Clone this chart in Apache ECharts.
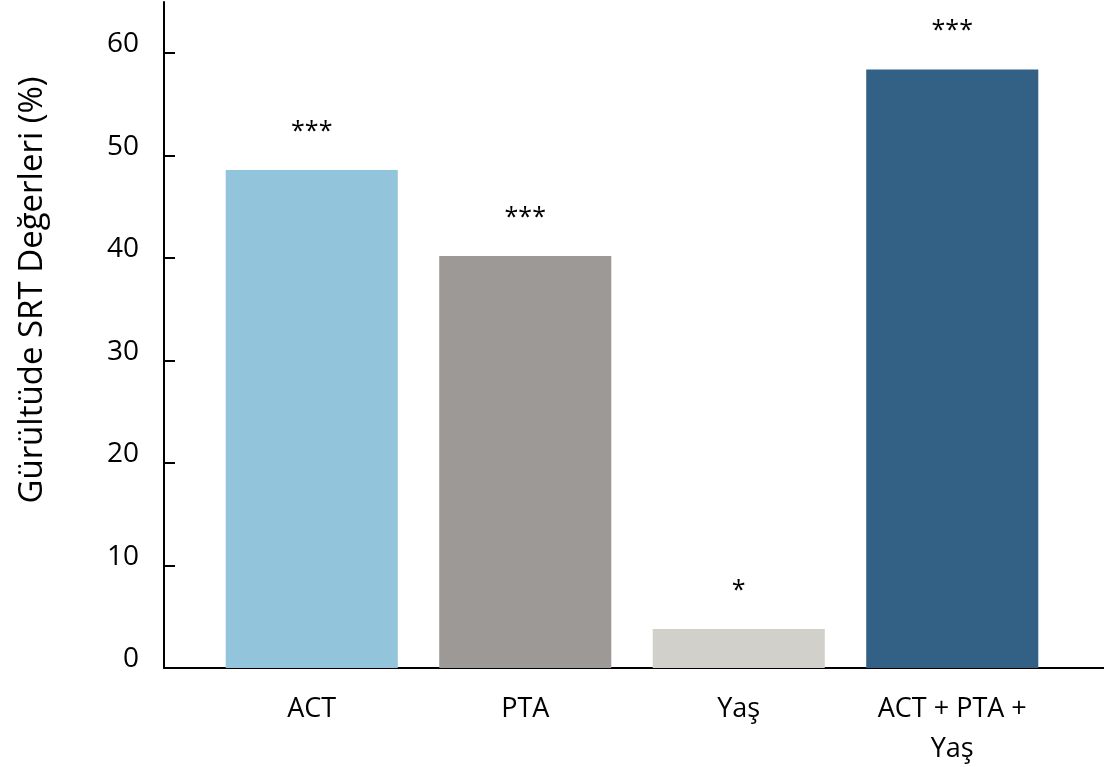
<!DOCTYPE html>
<html>
<head>
<meta charset="utf-8">
<script src="https://cdn.jsdelivr.net/npm/echarts@6/dist/echarts.min.js"></script>
<style>html,body{margin:0;padding:0;background:#fff}#c{width:1104px;height:767px}</style>
</head>
<body>
<div id="c"></div>
<script>
const categories = ['ACT', 'PTA', 'Yaş', 'ACT + PTA +\nYaş'];
const values = [48.6, 40.2, 3.8, 58.4];
const significance = ['***', '***', '*', '***'];
const barColors = ['#92C5DC', '#9D9996', '#D1D0CB', '#336185'];
const yRange = { min: 0, max: 65 };
const yTickValues = [0, 10, 20, 30, 40, 50, 60];
const yTitle = 'Gürültüde SRT Değerleri (%)';

const FONT = 'Open Sans';
const chart = echarts.init(document.getElementById('c'));
chart.setOption({
  animation: false,
  textStyle: { fontFamily: FONT },
  grid: [
    { left: 205, right: 45, top: 2, bottom: 99, containLabel: false, outerBoundsMode: 'none' },
    { left: 164, right: 0, top: 2, bottom: 99, containLabel: false, outerBoundsMode: 'none' }
  ],
  xAxis: [
    {
      type: 'category', gridIndex: 0, data: categories,
      axisLine: { show: false }, axisTick: { show: false },
      axisLabel: { color: '#000', fontSize: 27, fontFamily: FONT, margin: 21, lineHeight: 40 }
    },
    {
      type: 'value', gridIndex: 1, min: 0, max: 1,
      axisLine: { show: true, lineStyle: { color: '#000', width: 2 } },
      axisTick: { show: false }, axisLabel: { show: false }, splitLine: { show: false }
    }
  ],
  yAxis: [
    {
      type: 'value', gridIndex: 0, min: yRange.min, max: yRange.max,
      show: false, splitLine: { show: false }
    },
    {
      type: 'value', gridIndex: 1, min: yRange.min, max: yRange.max,
      name: yTitle, nameLocation: 'middle', nameGap: 115, nameRotate: 90,
      nameTextStyle: { color: '#000', fontSize: 33, fontFamily: FONT, padding: [0, 0, 0, 90] },
      axisLine: { show: true, lineStyle: { color: '#000', width: 2 } },
      axisTick: { show: true, inside: true, length: 11, customValues: yTickValues.slice(1), lineStyle: { color: '#000', width: 2 } },
      axisLabel: { color: '#000', fontSize: 28, fontFamily: FONT, margin: 25, verticalAlign: 'bottom', lineHeight: 18, customValues: yTickValues },
      splitLine: { show: false }
    }
  ],
  series: [{
    type: 'bar', xAxisIndex: 0, yAxisIndex: 0,
    barCategoryGap: '19.4%',
    data: values.map((v, i) => ({ value: v, itemStyle: { color: barColors[i] } })),
    label: {
      show: true, position: 'top', distance: 26, color: '#000', fontSize: 25, fontFamily: FONT,
      formatter: p => significance[p.dataIndex]
    }
  }]
});
</script>
</body>
</html>
